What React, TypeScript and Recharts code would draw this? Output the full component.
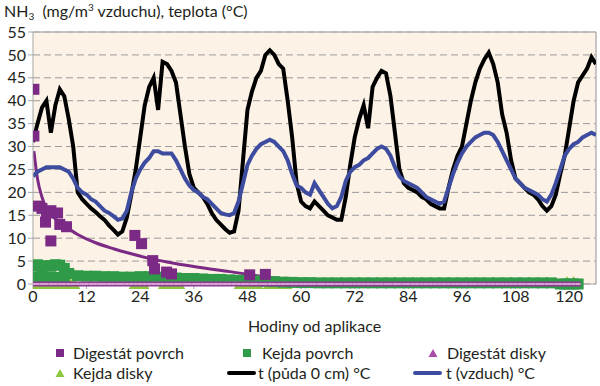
import React from 'react';
import { ComposedChart, Line, Scatter, XAxis, YAxis, CartesianGrid, ReferenceLine, Label } from 'recharts';

// hodiny mereni teplot (kazda hodina)
const hours = Array.from({ length: 127 }, (_, i) => i);

// t (puda 0 cm)
const soilTemp = [
  31, 35, 38.5, 40, 33, 39, 42.5, 41, 36, 30,
  20, 18.5, 17.5, 16.5, 15.7, 14.8, 14, 12.8, 11.8, 10.8,
  11.5, 14.5, 19.5, 25, 32, 39, 43, 45, 38, 48.5,
  48, 46.5, 44, 37, 30, 24, 21, 20, 19, 17.5,
  15.5, 14, 13, 12, 11.2, 11.5, 16, 27, 38, 42,
  45, 46.5, 50, 51, 50, 48, 47, 40, 32, 22,
  18, 17, 16.5, 18, 17, 16, 15, 14.5, 14, 14,
  19, 26, 32, 36, 39, 34, 43, 45, 46.5, 46,
  41, 33, 25, 22, 21, 20.5, 20, 19, 18.5, 17.5,
  17, 16.5, 16.5, 21, 25, 28, 30, 35, 40, 44,
  47, 49, 50.5, 48, 44, 37, 33, 27, 23, 22,
  21, 20, 19.5, 18.5, 17, 16, 17, 19.5, 24, 28,
  34, 40, 44, 45.5, 47, 49.5, 48,
];

// t (vzduch)
const airTemp = [
  23.5, 24.5, 25, 25.5, 25.5, 25.5, 25.5, 25, 24.5, 23,
  21, 20, 19.5, 18.5, 18, 17, 16, 15.5, 14.8, 14,
  14.3, 16, 20, 23, 25, 26.5, 27.5, 29, 29, 28.5,
  28.5, 28.5, 27, 25, 23, 21.5, 20.5, 20, 19, 18.5,
  17.5, 16.5, 15.5, 15.2, 15, 15.5, 18, 22, 26, 28,
  29.5, 30.5, 31, 31.5, 31, 30, 29, 27, 24, 21.5,
  21, 20, 19.5, 22, 20.5, 19, 17.5, 16.5, 17, 19,
  22.5, 24.5, 25.5, 26, 27, 27.5, 28.5, 29.5, 30, 29.5,
  28, 25.5, 23.5, 22.5, 22, 21.5, 21, 20, 19, 18.5,
  18, 17.5, 18, 21, 24, 26.5, 28.5, 30, 31, 32,
  32.5, 33, 33, 32.5, 31, 29, 27, 25, 23, 22,
  21, 20.5, 20, 19.5, 18.5, 18, 19.5, 22, 25, 28,
  29.5, 30.5, 31, 32, 32.5, 33, 32.5,
];

// spojnice trendu Digestat povrch
const trendHours = [0.2, 1, 2, 3, 5, 7, 10, 14, 18, 22, 26, 30, 36, 44, 52, 60, 68, 74];
const trendValues = [29, 23, 19, 16.5, 14.2, 12.8, 10.8, 9, 7.7, 6.6, 5.6, 4.8, 3.8, 2.7, 1.6, 0.8, 0.2, 0];

// Digestat povrch
const digPovrchHours = [0.2, 0.2, 1, 2, 2.8, 3, 4, 4, 5.5, 6, 7.5, 22.8, 24.3, 26.8, 27.2, 29.9, 31, 48.5, 52];
const digPovrchValues = [42.5, 32.3, 17, 16.5, 13.5, 15.5, 16, 9.4, 15.5, 13, 12.5, 10.6, 8.8, 5.1, 3.3, 2.6, 2.2, 2, 2.1];

// Kejda povrch
const kejdaEarlyHours = [0, 1, 2, 3, 4, 5, 6, 7];
const kejdaEarlyTop = [3.9, 4.2, 3.8, 4.0, 3.9, 4.2, 4.1, 3.4];
const kejdaEarlyLow = [1.4, 1.5, 1.3, 1.4, 1.5, 1.4, 1.3, 1.4];
const kejdaMidHours = [8, 10, 12, 14, 16, 18, 20, 22, 24, 26, 28, 30, 32, 34, 36, 38, 40, 42, 44, 46, 48, 50, 52, 54, 56, 58];
const kejdaMidValues = [2.3, 1.8, 1.7, 1.7, 1.6, 1.6, 1.5, 1.5, 1.6, 1.6, 1.5, 1.4, 1.3, 1.2, 1.2, 1.1, 1.0, 1.0, 0.9, 0.8, 0.8, 0.7, 0.6, 0.5, 0.4, 0.35];
const kejdaLateHours = [60, 62, 64, 66, 68, 70, 72, 74, 76, 78, 80, 82, 84, 86, 88, 90, 92, 94, 96, 98, 100, 102, 104, 106, 108, 110, 112, 114, 116, 118, 119, 120, 121, 122];
const kejdaLateValues = [0.3, 0.3, 0.25, 0.25, 0.25, 0.25, 0.25, 0.25, 0.25, 0.25, 0.25, 0.25, 0.25, 0.25, 0.25, 0.25, 0.25, 0.25, 0.25, 0.25, 0.25, 0.25, 0.25, 0.25, 0.25, 0.25, 0.25, 0.25, 0.25, 0, 0, 0, 0, 0];

// Digestat disky (vse na nule)
const digDiskyHours = Array.from({ length: 123 }, (_, i) => i);
const digDiskyValues = digDiskyHours.map(() => 0);

// Kejda disky
const kejdaDiskyHours = [0, 1, 2, 4, 6, 8, 9, 23, 24.5, 29.5, 31, 32.5, 46.5, 48, 50, 53, 55, 56.5, 119.5, 121];
const kejdaDiskyValues = [0, 0, 0, 0, 0, 0, 0, 0, 0, 0, 0, 0, 0, 0, 0, 0, 0, 0, 0, 0];

const xTicks = [0, 12, 24, 36, 48, 60, 72, 84, 96, 108, 120];
const yTicks = [0, 5, 10, 15, 20, 25, 30, 35, 40, 45, 50, 55];

const zip = (hs: number[], vs: number[]) => hs.map((h, i) => ({ h, v: vs[i] }));

const soilData = zip(hours, soilTemp);
const airData = zip(hours, airTemp);
const trendData = zip(trendHours, trendValues);
const digPovrchData = zip(digPovrchHours, digPovrchValues);
const kejdaPovrchData = [
  ...zip(kejdaEarlyHours, kejdaEarlyTop),
  ...zip(kejdaEarlyHours, kejdaEarlyLow),
  ...zip(kejdaMidHours, kejdaMidValues),
  ...zip(kejdaLateHours, kejdaLateValues),
];
const digDiskyData = zip(digDiskyHours, digDiskyValues);
const kejdaDiskyData = zip(kejdaDiskyHours, kejdaDiskyValues);

const PURPLE = '#7B2A85';
const GREEN = '#2F9A48';
const LIGHT_GREEN = '#8DC63F';
const PINK = '#A94DA8';
const BLUE = '#3D4C9F';
const FONT = 'Lato, "Noto Sans", sans-serif';
const TEXT = '#231F20';

const squareShape = (color: string, s: number) => (p: any) => (
  <rect x={p.cx - s / 2} y={p.cy - s / 2} width={s} height={s} fill={color} />
);

const triangleShape = (p: any) => (
  <path d={`M${p.cx},${p.cy - 8} L${p.cx + 7},${p.cy + 5} L${p.cx - 7},${p.cy + 5} Z`} fill={LIGHT_GREEN} />
);

// hustě vedle sebe -> pruh na nule
const bandShape = (p: any) => (
  <g>
    <rect x={p.cx - 2.4} y={p.cy - 2.5} width={4.8} height={5} fill="#8E3B92" />
    <rect x={p.cx - 2.4} y={p.cy - 1} width={4.8} height={2} fill="#D7A3D4" />
  </g>
);

const legendItems = [
  { label: 'Digestát povrch', x: 55, y: 353, text: 73, marker: 'square', color: PURPLE },
  { label: 'Kejda povrch', x: 242, y: 353, text: 262, marker: 'square', color: GREEN },
  { label: 'Digestát disky', x: 428, y: 353, text: 447, marker: 'triangle', color: PINK },
  { label: 'Kejda disky', x: 55, y: 373, text: 73, marker: 'triangle', color: LIGHT_GREEN },
  { label: 't (půda 0 cm) °C', x: 227, y: 373, text: 258, marker: 'line', color: '#000' },
  { label: 't (vzduch) °C', x: 413, y: 373, text: 446, marker: 'line', color: BLUE },
];

const LegendMarker = ({ marker, color }: { marker: string; color: string }) => {
  if (marker === 'square') return <svg width={10} height={10}><rect x={1} y={1} width={8} height={8} fill={color} /></svg>;
  if (marker === 'triangle') return <svg width={10} height={10}><path d="M5,1 L9.5,9 L0.5,9 Z" fill={color} /></svg>;
  return <svg width={29} height={10}><line x1={2} y1={5} x2={27} y2={5} stroke={color} strokeWidth={4} strokeLinecap="round" /></svg>;
};

const small = { fontSize: 10, position: 'relative' as const, verticalAlign: 'baseline', lineHeight: 0 };

export default function App() {
  return (
    <div style={{ position: 'absolute', left: 0, top: 0, width: 600, height: 386, background: '#fff', fontFamily: FONT, color: TEXT }}>
      <div style={{ position: 'absolute', left: 4, top: 2, fontSize: 16, lineHeight: '18px', whiteSpace: 'pre' }}>
        NH<span style={{ ...small, top: 3 }}>3</span>{'  (mg/m'}<span style={{ ...small, top: -6 }}>3</span>{' vzduchu), teplota (°C)'}
      </div>
      <ComposedChart width={600} height={386} margin={{ top: 32, right: 4, left: 0, bottom: 54 }}>
        <CartesianGrid vertical={false} stroke="#9A9A9A" strokeDasharray="7 4" fill="#FCF2E6" />
        <XAxis
          type="number"
          dataKey="h"
          domain={[0, 126]}
          ticks={xTicks}
          allowDataOverflow
          height={48}
          stroke="#A6A6A6"
          tickSize={5}
          tick={{ fill: TEXT, fontSize: 16, fontFamily: FONT }}
        >
          <Label value="Hodiny od aplikace" position="insideBottom" offset={0} fill={TEXT} fontSize={16} fontFamily={FONT} />
        </XAxis>
        <YAxis
          type="number"
          domain={[0, 55]}
          ticks={yTicks}
          interval={0}
          width={33}
          stroke="#A6A6A6"
          tickSize={5}
          tick={{ fill: TEXT, fontSize: 16, fontFamily: FONT }}
        />
        <ReferenceLine y={55} stroke="#B5B5B5" strokeWidth={1.5} />
        <ReferenceLine x={126} stroke="#B5B5B5" strokeWidth={1.5} />
        <Scatter name="Kejda disky" data={kejdaDiskyData} dataKey="v" shape={triangleShape} isAnimationActive={false} />
        <Scatter name="Kejda povrch" data={kejdaPovrchData} dataKey="v" shape={squareShape(GREEN, 11)} isAnimationActive={false} />
        <Scatter name="Digestát disky" data={digDiskyData} dataKey="v" shape={bandShape} isAnimationActive={false} />
        <Scatter name="Digestát povrch" data={digPovrchData} dataKey="v" shape={squareShape(PURPLE, 11)} isAnimationActive={false} />
        <Line data={trendData} dataKey="v" type="monotone" stroke={PURPLE} strokeWidth={3} dot={false} isAnimationActive={false} />
        <Line data={soilData} dataKey="v" type="linear" stroke="#000" strokeWidth={4} dot={false} isAnimationActive={false} />
        <Line data={airData} dataKey="v" type="linear" stroke={BLUE} strokeWidth={4} dot={false} isAnimationActive={false} />
      </ComposedChart>
      {legendItems.map(it => (
        <React.Fragment key={it.label}>
          <div style={{ position: 'absolute', left: it.x, top: it.y - 5, height: 10, lineHeight: 0 }}>
            <LegendMarker marker={it.marker} color={it.color} />
          </div>
          <div style={{ position: 'absolute', left: it.text, top: it.y - 11, fontSize: 16, lineHeight: '22px', whiteSpace: 'pre' }}>
            {it.label}
          </div>
        </React.Fragment>
      ))}
    </div>
  );
}
